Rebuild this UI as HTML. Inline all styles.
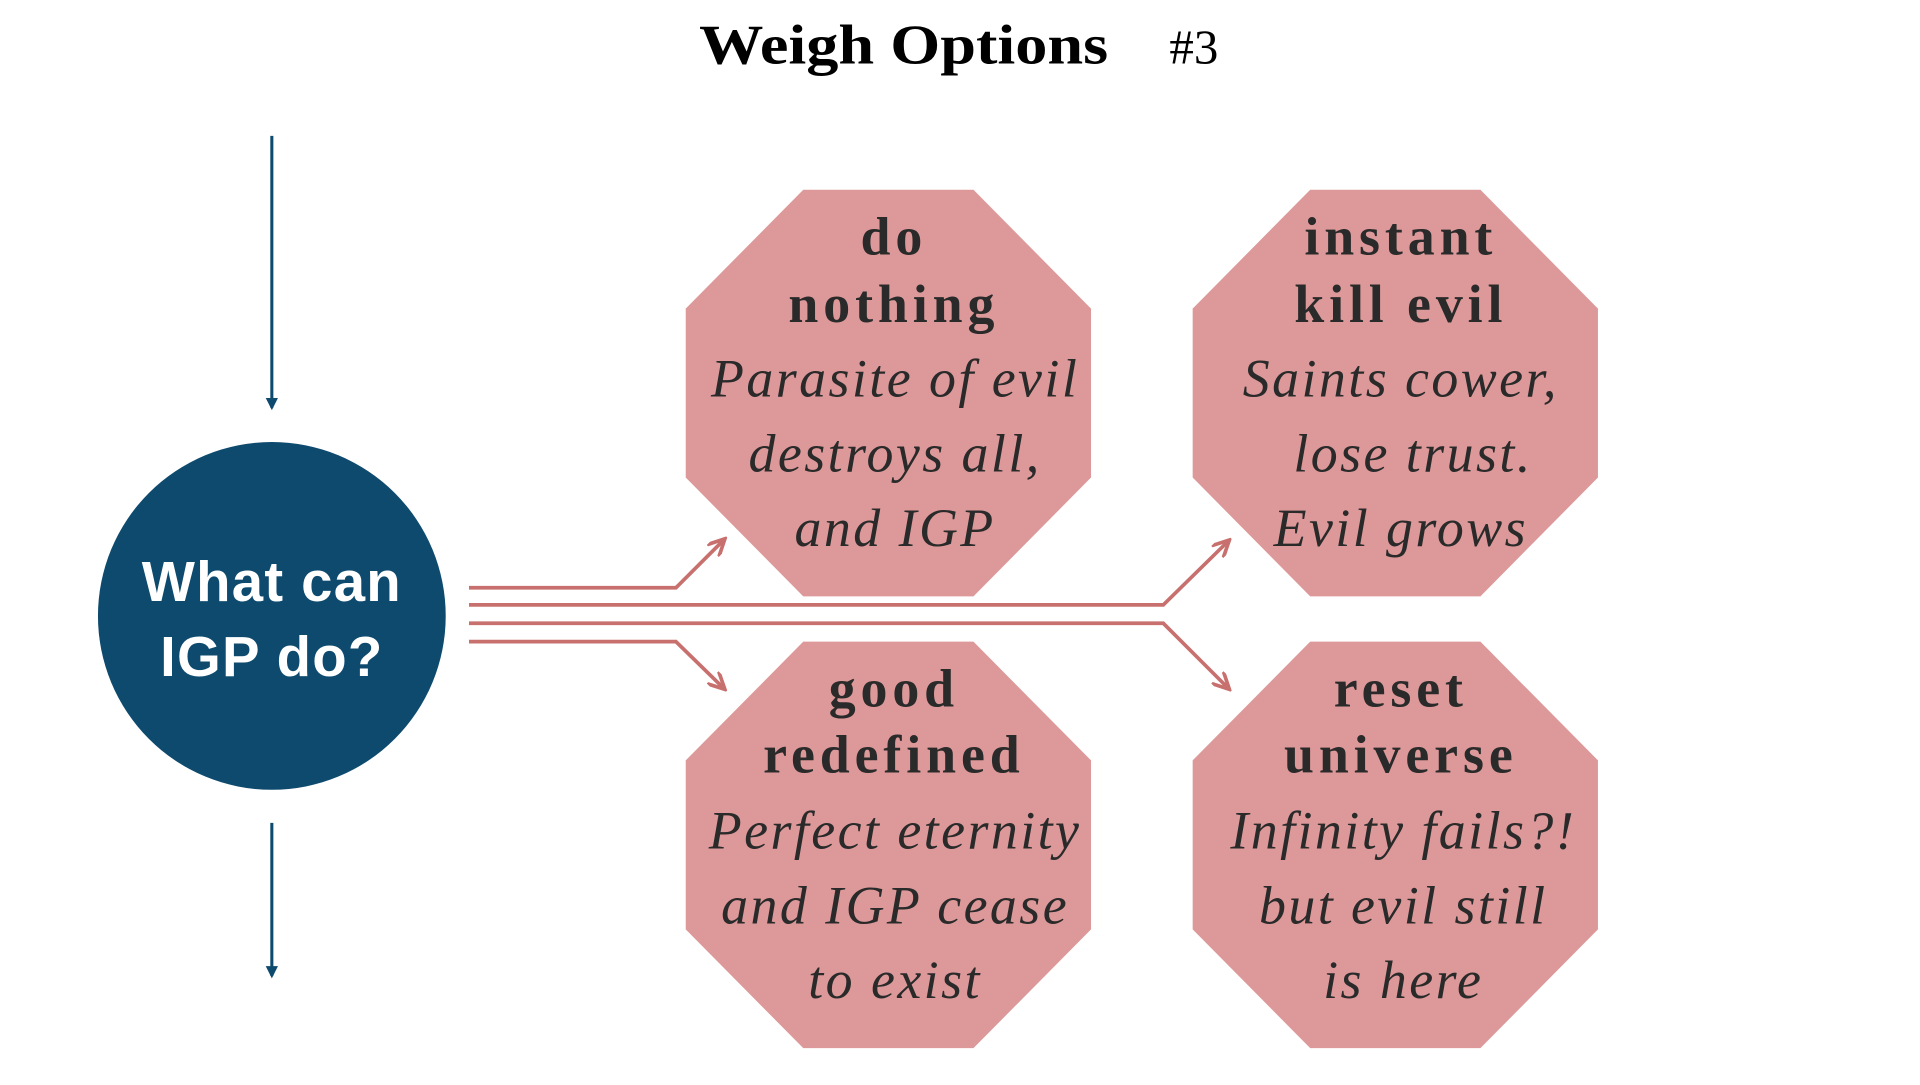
<!DOCTYPE html>
<html><head><meta charset="utf-8"><style>html,body{margin:0;padding:0;background:#fff;overflow:hidden}</style></head>
<body>
<svg width="1920" height="1080" viewBox="0 0 1568 882" preserveAspectRatio="none" xmlns="http://www.w3.org/2000/svg">
<defs>
<marker id="ab" markerWidth="10" markerHeight="10" refX="8" refY="5" orient="auto" markerUnits="userSpaceOnUse"><path d="M0,0 L10,5 L0,10 z" fill="#0d4a6e"/></marker>
<marker id="ar" markerWidth="16" markerHeight="14" refX="14" refY="7" orient="auto" markerUnits="userSpaceOnUse"><path d="M0,0 L14,7 L0,14" fill="none" stroke="#c8706e" stroke-width="3"/></marker>
</defs>
<g font-family="Liberation Serif, serif" font-weight="bold" font-size="46" fill="#000">
<text x="571" y="52" textLength="334" lengthAdjust="spacingAndGlyphs">Weigh Options</text>
<text x="975" y="52" text-anchor="middle" font-weight="normal" font-size="40">#3</text>
</g>
<line x1="222" y1="111" x2="222" y2="333" stroke="#0d4a6e" stroke-width="2.5" marker-end="url(#ab)"/>
<line x1="222" y1="672" x2="222" y2="797" stroke="#0d4a6e" stroke-width="2.5" marker-end="url(#ab)"/>
<circle cx="222" cy="503" r="142" fill="#0d4a6e"/>
<g font-family="Liberation Sans, sans-serif" font-weight="bold" font-size="46" fill="#fff" text-anchor="middle" letter-spacing="1">
<text x="222" y="491">What can</text><text x="222" y="552">IGP do?</text>
</g>
<g fill="#dd999a">
<polygon points="656,155 795,155 891,252 891,390 795,487 656,487 560,390 560,252"/>
<polygon points="1070,155 1209,155 1305,252 1305,390 1209,487 1070,487 974,390 974,252"/>
<polygon points="656,524 795,524 891,621 891,759 795,856 656,856 560,759 560,621"/>
<polygon points="1070,524 1209,524 1305,621 1305,759 1209,856 1070,856 974,759 974,621"/>
</g>
<g fill="none" stroke="#c8706e" stroke-width="3">
<polyline points="383,480 552,480 592,440" marker-end="url(#ar)"/>
<polyline points="383,494 950,494 1004,441" marker-end="url(#ar)"/>
<polyline points="383,509 950,509 1004,563" marker-end="url(#ar)"/>
<polyline points="383,524 552,524 592,563" marker-end="url(#ar)"/>
</g>
<g font-family="Liberation Serif, serif" font-size="44" fill="#2a2a2a" text-anchor="middle">
<g font-weight="bold" letter-spacing="4">
<text x="730" y="208">do</text><text x="730" y="263">nothing</text>
<text x="1144" y="208">instant</text><text x="1144" y="263">kill evil</text>
<text x="730" y="577">good</text><text x="730" y="631">redefined</text>
<text x="1144" y="577">reset</text><text x="1144" y="631">universe</text>
</g>
<g font-style="italic" letter-spacing="2">
<text x="731" y="324">Parasite of evil</text><text x="731" y="385">destroys all,</text><text x="731" y="446">and IGP</text>
<text x="1144" y="324">Saints cower,</text><text x="1154" y="385">lose trust.</text><text x="1144" y="446">Evil grows</text>
<text x="731" y="693">Perfect eternity</text><text x="731" y="754">and IGP cease</text><text x="731" y="815">to exist</text>
<text x="1146" y="693">Infinity fails?!</text><text x="1146" y="754">but evil still</text><text x="1146" y="815">is here</text>
</g>
</g>
</svg>
</body></html>
